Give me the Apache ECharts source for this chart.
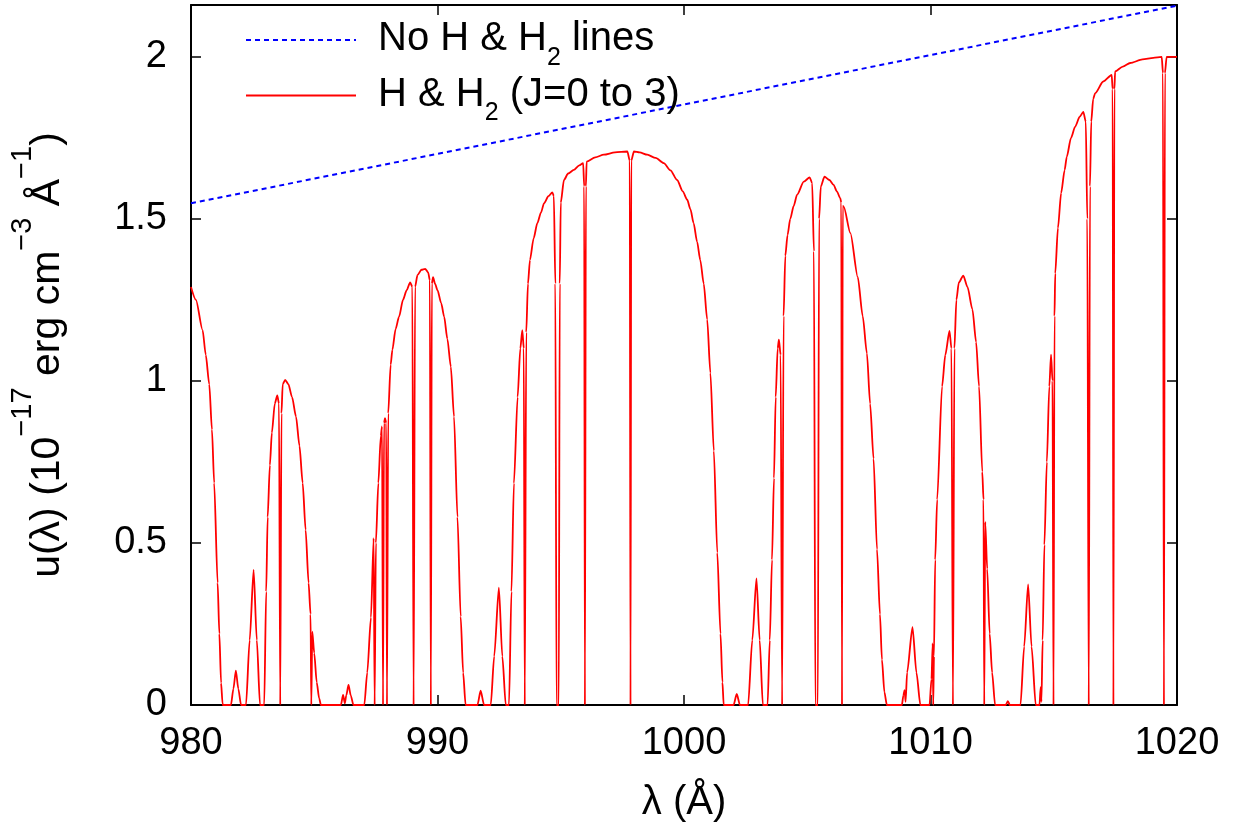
<!DOCTYPE html>
<html>
<head>
<meta charset="utf-8">
<script src="https://cdn.jsdelivr.net/npm/echarts@6/dist/echarts.min.js"></script>
<style>
html,body{margin:0;padding:0;background:#fff;}
#chart{width:1241px;height:836px;}
</style>
</head>
<body>
<div id="chart"></div>
<script>
// Continuum without lines
const contWavelength = [980, 1020];
const uNoLines = [1.548, 2.158];

// Spectrum with H & H2 absorption
const wavelength = [
980.00,980.20,980.47,980.60,980.74,980.85,980.94,981.08,981.15,981.22,981.28,981.30,
981.62,981.72,981.82,981.92,982.03,
982.23,982.38,982.54,982.67,982.80,
982.97,983.05,983.11,983.20,983.28,983.40,983.50,983.57,983.62,983.67,983.72,983.82,983.95,984.10,984.26,984.40,984.53,984.65,984.77,984.85,984.88,984.92,985.00,985.10,985.20,985.27,
986.08,986.17,986.24,986.30,986.39,986.48,986.59,
987.03,987.15,987.30,987.41,987.45,987.50,987.60,987.70,987.75,987.79,987.83,987.87,987.92,987.95,988.00,988.10,988.17,988.30,988.44,988.60,988.75,988.89,988.98,989.03,989.09,989.19,989.35,989.50,989.62,989.69,989.73,989.77,989.82,989.90,990.00,990.15,990.27,990.40,990.54,990.67,990.81,990.94,991.04,991.14,
991.62,991.75,991.89,
992.16,992.30,992.49,992.63,992.77,
992.90,993.00,993.10,993.25,993.36,993.44,993.50,993.54,993.60,993.67,993.75,993.90,994.05,994.20,994.32,994.50,994.66,994.72,994.78,994.83,994.92,994.96,995.00,995.13,995.30,995.53,995.75,995.91,995.95,995.98,996.02,996.05,996.40,996.75,997.20,997.70,997.80,997.83,997.86,997.97,998.20,998.51,998.85,999.18,999.45,999.72,999.95,1000.13,1000.26,1000.39,1000.53,1000.66,1000.80,1000.94,1001.07,1001.21,1001.35,1001.48,1001.56,1001.61,
1002.01,1002.14,1002.27,
1002.60,1002.77,1002.94,1003.07,1003.20,
1003.39,1003.48,1003.57,1003.65,1003.72,1003.80,1003.85,1003.92,1003.98,1004.04,1004.11,1004.20,1004.31,1004.45,1004.59,1004.86,1005.10,1005.20,1005.27,1005.33,1005.43,1005.48,1005.55,1005.70,1005.90,1006.07,1006.20,1006.34,1006.38,1006.41,1006.44,1006.48,1006.75,1007.05,1007.25,1007.42,1007.55,1007.69,1007.83,1007.95,1008.03,1008.13,1008.23,
1008.84,1008.90,1008.95,1008.99,1009.05,1009.27,1009.43,1009.59,
1009.96,1010.04,1010.09,1010.11,1010.14,1010.19,1010.27,1010.47,1010.60,1010.77,1010.85,1010.91,1010.97,1011.05,1011.15,1011.33,1011.50,1011.70,1011.85,1011.97,1012.10,1012.15,1012.18,1012.22,1012.30,1012.40,1012.50,1012.62,
1013.05,1013.14,1013.22,
1013.65,1013.80,1013.96,1014.10,1014.27,
1014.42,1014.47,1014.50,1014.55,1014.62,1014.72,1014.82,1014.89,1014.95,1014.99,1015.03,1015.06,1015.17,1015.30,1015.44,1015.53,1015.70,1015.87,1016.05,1016.20,1016.30,1016.36,1016.42,1016.47,1016.52,1016.60,1016.68,1017.01,1017.35,1017.39,1017.42,1017.46,1017.49,1017.80,1018.10,1018.60,1019.04,1019.38,1019.43,1019.47,1019.51,1019.58,1020.00
];
const uLines = [
1.29,1.25,1.157,1.08,0.99,0.85,0.685,0.377,0.22,0.068,0.005,0,
0,0.05,0.106,0.05,0,
0,0.2,0.417,0.2,0,
0,0.35,0.58,0.74,0.84,0.93,0.955,0.93,0,0.9,0.99,1.003,0.99,0.95,0.89,0.80,0.685,0.54,0.377,0.28,0,0.226,0.16,0.07,0.02,0,
0,0.031,0.005,0.03,0.062,0.03,0,
0,0.10,0.27,0.515,0,0.50,0.685,0.83,0.86,0,0.87,0.885,0.87,0,0.90,1.05,1.096,1.16,1.198,1.25,1.28,1.304,1.29,0,1.29,1.327,1.343,1.346,1.335,1.31,0,1.30,1.32,1.30,1.28,1.24,1.198,1.13,1.044,0.89,0.58,0.273,0.10,0,
0,0.044,0,
0,0.15,0.362,0.15,0,
0,0.35,0.684,0.95,1.10,1.157,1.10,0,1.15,1.30,1.373,1.44,1.487,1.52,1.548,1.57,1.582,1.57,1.30,0,0,1.30,1.55,1.62,1.64,1.651,1.665,1.672,1.60,0,1.60,1.677,1.69,1.698,1.705,1.708,1.68,0,1.68,1.708,1.705,1.698,1.688,1.672,1.65,1.62,1.585,1.559,1.53,1.487,1.43,1.373,1.30,1.19,1.025,0.784,0.47,0.22,0.07,0,
0,0.034,0,
0,0.2,0.391,0.2,0,
0,0.2,0.448,0.70,0.95,1.10,1.127,1.08,0,1.20,1.386,1.45,1.50,1.54,1.575,1.615,1.628,1.61,1.40,0,0,1.50,1.60,1.63,1.62,1.605,1.585,1.564,1.55,0,1.54,1.538,1.456,1.32,1.20,1.085,0.93,0.76,0.48,0.28,0.14,0.04,0,
0,0.03,0.046,0.01,0.10,0.24,0.10,0,
0,0.08,0.19,0,0.15,0.448,0.634,0.983,1.08,1.154,1.10,0,1.10,1.25,1.304,1.325,1.29,1.221,1.12,0.983,0.72,0.634,0,0.565,0.42,0.22,0.10,0,
0,0.012,0,
0,0.18,0.372,0.18,0,
0,0.055,0.01,0.20,0.494,0.75,0.983,1.081,1.00,0,1.20,1.332,1.472,1.58,1.65,1.692,1.75,1.785,1.815,1.83,1.80,1.50,0,1.60,1.80,1.87,1.888,1.924,1.944,1.90,0,1.90,1.955,1.97,1.981,1.992,1.997,2.00,1.95,0,1.95,2.00,2.00
];

const xTicks = [980, 990, 1000, 1010, 1020];
const yTicks = [0, 0.5, 1, 1.5, 2];

const FONT = '"Liberation Sans", Arial, Helvetica, sans-serif';
const chart = echarts.init(document.getElementById('chart'), null, {renderer: 'canvas'});

const frameLine = {show: true, onZero: false, lineStyle: {color: '#000', width: 2}};
const tickStyle = {show: true, inside: true, length: 10, lineStyle: {color: '#000', width: 1.5}};

const legendNames = {
  'No H & H2 lines': '{a|No H & H}{sub|2}{a| lines}',
  'H & H2 (J=0 to 3)': '{a|H & H}{sub|2}{a| (J=0 to 3)}'
};

chart.setOption({
  animation: false,
  backgroundColor: '#fff',
  grid: {left: 190, right: 64, top: 5, bottom: 131},
  legend: {
    orient: 'vertical',
    left: 240,
    top: 14,
    itemWidth: 110,
    itemHeight: 20,
    itemGap: 4,
    data: ['No H & H2 lines', 'H & H2 (J=0 to 3)'],
    formatter: n => legendNames[n],
    itemStyle: {opacity: 0, color: 'rgba(0,0,0,0)', borderWidth: 0},
    textStyle: {
      color: '#000',
      fontFamily: FONT,
      fontSize: 40,
      padding: [0, 0, 0, 17],
      rich: {
        a: {fontFamily: FONT, fontSize: 40, color: '#000', height: 36, lineHeight: 38, verticalAlign: 'top'},
        sub: {fontFamily: FONT, fontSize: 25, color: '#000', height: 2, lineHeight: 38, verticalAlign: 'bottom'}
      }
    }
  },
  xAxis: [{
    type: 'value', min: 980, max: 1020, interval: 10, position: 'bottom',
    axisLine: frameLine, axisTick: tickStyle, splitLine: {show: false},
    axisLabel: {color: '#000', fontFamily: FONT, fontSize: 38, margin: 20,
      formatter: v => xTicks.includes(v) ? String(v) : ''},
    name: 'λ (Å)', nameLocation: 'middle', nameGap: 78,
    nameTextStyle: {color: '#000', fontFamily: FONT, fontSize: 40}
  }, {
    type: 'value', min: 980, max: 1020, interval: 10, position: 'top',
    axisLine: frameLine, axisTick: tickStyle, splitLine: {show: false},
    axisLabel: {show: false}
  }],
  yAxis: [{
    type: 'value', min: 0, max: 2.16, interval: 0.5, position: 'left',
    axisLine: frameLine, axisTick: tickStyle, splitLine: {show: false},
    axisLabel: {color: '#000', fontFamily: FONT, fontSize: 38, margin: 24, showMaxLabel: false,
      formatter: v => yTicks.includes(v) ? String(v) : ''},
    name: '{a|u(λ) (10}{sup|−17}{a| erg cm}{sup|−3}{a| Å}{sup|−1}{a|)}',
    nameLocation: 'middle', nameGap: 123,
    nameTextStyle: {
      color: '#000', fontFamily: FONT, fontSize: 41,
      rich: {
        a: {fontFamily: FONT, fontSize: 41, color: '#000', lineHeight: 60, verticalAlign: 'bottom'},
        sup: {fontFamily: FONT, fontSize: 29, color: '#000', lineHeight: 4, verticalAlign: 'top'}
      }
    }
  }, {
    type: 'value', min: 0, max: 2.16, interval: 0.5, position: 'right',
    axisLine: frameLine, axisTick: tickStyle, splitLine: {show: false},
    axisLabel: {show: false}
  }],
  series: [{
    name: 'No H & H2 lines',
    type: 'line',
    xAxisIndex: 0, yAxisIndex: 0,
    data: contWavelength.map((x, i) => [x, uNoLines[i]]),
    showSymbol: false, symbol: 'none',
    lineStyle: {color: '#0000ff', width: 2, type: [5, 4]},
    itemStyle: {color: '#0000ff'}
  }, {
    name: 'H & H2 (J=0 to 3)',
    type: 'line',
    xAxisIndex: 0, yAxisIndex: 0,
    data: wavelength.map((x, i) => [x, uLines[i]]),
    showSymbol: false, symbol: 'none',
    smooth: 0.25, smoothMonotone: 'x',
    clip: true,
    lineStyle: {color: '#ff0000', width: 1.8},
    itemStyle: {color: '#ff0000'}
  }]
});
</script>
</body>
</html>
